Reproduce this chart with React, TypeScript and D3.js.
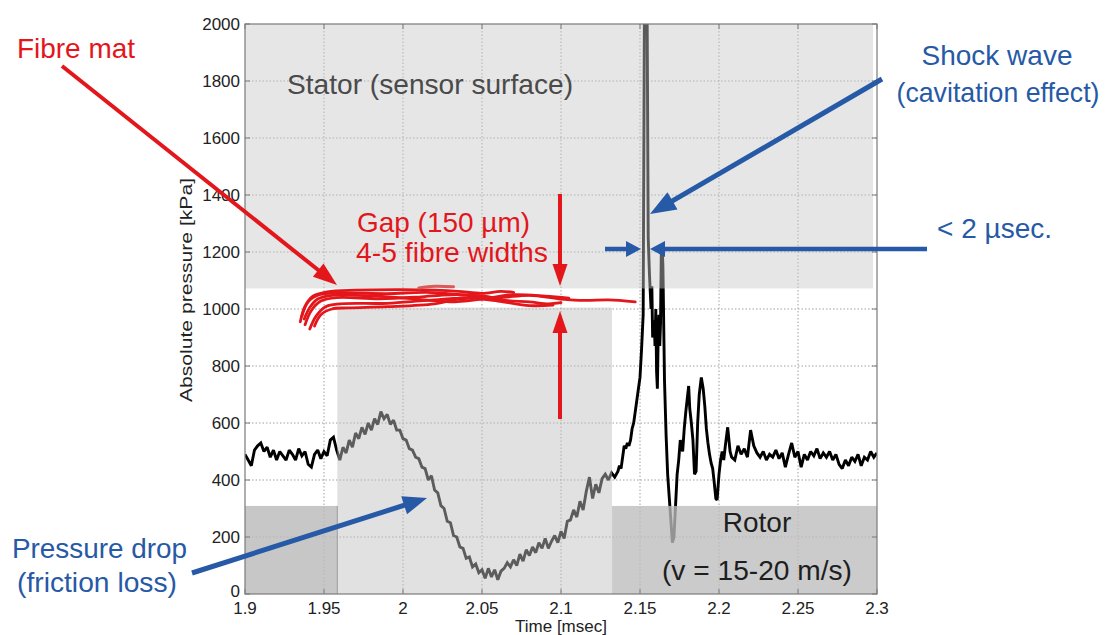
import React from 'react';
import * as d3 from 'd3';

// ---------- axis ticks ----------
const X_TICKS = [1.9, 1.95, 2, 2.05, 2.1, 2.15, 2.2, 2.25, 2.3];
const Y_TICKS = [0, 200, 400, 600, 800, 1000, 1200, 1400, 1600, 1800, 2000];

// ---------- pressure signal [time msec, pressure kPa] ----------
const SIGNAL_BASE_LEFT: [number, number][] = [
  [1.900, 490], [1.902, 470], [1.904, 450], [1.906, 505], [1.908, 520], [1.910, 530],
  [1.912, 500], [1.914, 515], [1.916, 480], [1.918, 505], [1.920, 470], [1.922, 500],
  [1.924, 485], [1.926, 470], [1.928, 505], [1.930, 490], [1.932, 470], [1.934, 510],
  [1.936, 485], [1.938, 500], [1.940, 455], [1.942, 445], [1.944, 490], [1.946, 505],
  [1.948, 475], [1.950, 500], [1.952, 485], [1.954, 540], [1.956, 550], [1.958, 505],
];
const SIGNAL_DROP: [number, number][] = [
  [1.960, 470], [1.962, 515], [1.964, 495], [1.966, 540], [1.968, 515], [1.970, 565],
  [1.972, 545], [1.974, 585], [1.976, 560], [1.978, 600], [1.980, 575], [1.982, 615],
  [1.984, 595], [1.986, 640], [1.988, 615], [1.990, 630], [1.992, 595], [1.994, 610],
  [1.996, 575], [1.998, 575], [2.000, 545], [2.002, 540], [2.004, 510], [2.006, 505],
  [2.008, 480], [2.010, 475], [2.012, 445], [2.014, 440], [2.016, 400], [2.018, 415],
  [2.020, 365], [2.022, 355], [2.024, 310], [2.026, 300], [2.028, 255], [2.030, 250],
  [2.032, 205], [2.034, 200], [2.036, 165], [2.038, 160], [2.040, 125], [2.042, 130],
  [2.044, 95], [2.046, 105], [2.048, 75], [2.050, 85], [2.052, 55], [2.054, 90],
  [2.056, 60], [2.058, 85], [2.060, 50], [2.062, 80], [2.064, 90], [2.066, 110],
  [2.068, 95], [2.070, 120], [2.072, 100], [2.074, 140], [2.076, 115], [2.078, 155],
  [2.080, 135], [2.082, 165], [2.084, 145], [2.086, 180], [2.088, 160], [2.090, 195],
  [2.092, 160], [2.094, 185], [2.096, 205], [2.098, 180], [2.100, 220], [2.102, 195],
  [2.104, 255], [2.106, 260], [2.108, 295], [2.110, 270], [2.112, 325], [2.114, 295],
  [2.116, 360], [2.118, 410], [2.120, 335], [2.122, 385], [2.124, 355], [2.126, 405],
  [2.128, 420], [2.130, 400], [2.132, 425], [2.134, 410],
];
const SIGNAL_SHOCK: [number, number][] = [
  [2.136, 430], [2.137, 450], [2.138, 440], [2.139, 480], [2.140, 520], [2.141, 510],
  [2.142, 530], [2.143, 520], [2.144, 540], [2.145, 580], [2.146, 600], [2.147, 640],
  [2.148, 680], [2.149, 720], [2.150, 760], [2.151, 860], [2.152, 980], [2.1528, 2060],
  [2.1545, 2060], [2.1552, 1250], [2.156, 1120], [2.157, 1000], [2.1575, 1080],
  [2.158, 900], [2.159, 960], [2.1595, 870], [2.160, 1000], [2.1605, 780], [2.161, 720],
  [2.1615, 900], [2.162, 980], [2.1625, 870], [2.163, 950], [2.1635, 1210], [2.164, 1220],
  [2.1645, 1150], [2.1655, 750], [2.1665, 560], [2.1675, 420], [2.1685, 340],
  [2.1695, 260], [2.1705, 180], [2.1715, 200], [2.1725, 310], [2.1735, 420],
  [2.1745, 470], [2.1755, 540], [2.177, 500], [2.178, 580], [2.179, 640], [2.180, 690],
  [2.1808, 730], [2.1815, 650], [2.1825, 600], [2.1835, 540], [2.1845, 420],
  [2.1855, 430], [2.1865, 600], [2.1875, 700], [2.1888, 760], [2.190, 720],
  [2.191, 660], [2.192, 580], [2.193, 530], [2.194, 490], [2.195, 460], [2.196, 440],
  [2.197, 390], [2.198, 335], [2.1988, 330], [2.200, 420], [2.201, 470], [2.202, 500],
  [2.203, 470], [2.204, 520], [2.2055, 585], [2.207, 500],
];
const SIGNAL_TAIL: [number, number][] = [
  [2.208, 480], [2.210, 470], [2.212, 520], [2.214, 490], [2.216, 510], [2.218, 480],
  [2.220, 575], [2.222, 520], [2.224, 495], [2.226, 480], [2.228, 500], [2.230, 470],
  [2.232, 490], [2.234, 480], [2.236, 505], [2.238, 475], [2.240, 495], [2.242, 445],
  [2.244, 490], [2.246, 530], [2.248, 480], [2.250, 500], [2.252, 445], [2.254, 490],
  [2.256, 470], [2.258, 500], [2.260, 485], [2.262, 510], [2.264, 475], [2.266, 495],
  [2.268, 480], [2.270, 500], [2.272, 470], [2.274, 490], [2.276, 455], [2.278, 440],
  [2.280, 470], [2.282, 450], [2.284, 480], [2.286, 465], [2.288, 490], [2.290, 450],
  [2.292, 480], [2.294, 470], [2.296, 500], [2.298, 480], [2.300, 495],
];

// ---------- fibre mat traces ----------
const FIBRE_1: [number, number][] = [[1.935, 955], [1.938, 1010], [1.943, 1045], [1.952, 1060], [1.97, 1066], [2.0, 1068], [2.02, 1066], [2.035, 1062], [2.05, 1055], [2.062, 1062], [2.07, 1058]];
const FIBRE_2: [number, number][] = [[1.936, 975], [1.940, 1025], [1.947, 1050], [1.96, 1056], [1.99, 1054], [2.015, 1058], [2.04, 1048], [2.06, 1040], [2.08, 1048], [2.1, 1035], [2.115, 1030], [2.13, 1032], [2.147, 1025]];
const FIBRE_3: [number, number][] = [[1.938, 945], [1.942, 995], [1.948, 1028], [1.958, 1040], [1.985, 1036], [2.01, 1042], [2.03, 1050], [2.05, 1046], [2.065, 1030], [2.08, 1025], [2.092, 1018], [2.1, 1022]];
const FIBRE_4: [number, number][] = [[1.941, 930], [1.945, 975], [1.951, 1008], [1.96, 1018], [1.99, 1020], [2.015, 1030], [2.04, 1038], [2.06, 1028], [2.08, 1012], [2.095, 1014]];
const FIBRE_5: [number, number][] = [[1.944, 940], [1.948, 980], [1.955, 1000], [1.965, 1004], [1.99, 1008], [2.02, 1018], [2.035, 1035], [2.055, 1042]];
const FIBRE_6: [number, number][] = [[1.9375, 965], [1.941, 1005], [1.946, 1035], [1.955, 1048], [1.98, 1046], [2.01, 1034], [2.03, 1025], [2.05, 1035], [2.07, 1050], [2.09, 1045], [2.105, 1038]];
const FIBRE_HIGHLIGHT: [number, number][] = [[2.01, 1074], [2.02, 1080], [2.032, 1078]];

// ---------- shaded regions (time range, pressure range) ----------
const STATOR_REGION = { t0: 1.9, t1: 2.2975, p0: 1072, p1: 2000 };
const GAP_REGION = { t0: 1.9584, t1: 2.1323, p0: 0, p1: 1005 };
const ROTOR_LEFT = { t0: 1.9, t1: 1.9584, p0: 0, p1: 309 };
const ROTOR_RIGHT = { t0: 2.1323, t1: 2.3, p0: 0, p1: 309 };

const FONT = '"Liberation Sans", Arial, Helvetica, sans-serif';
const RED = '#e3161c';
const BLUE = '#2659a6';

type ArrowProps = { x1: number; y1: number; x2: number; y2: number; color: string; w: number; hl: number; hw: number };
function Arrow({ x1, y1, x2, y2, color, w, hl, hw }: ArrowProps) {
  const dx = x2 - x1, dy = y2 - y1;
  const len = Math.hypot(dx, dy);
  const ux = dx / len, uy = dy / len;
  const bx = x2 - ux * hl, by = y2 - uy * hl;
  const px = -uy, py = ux;
  const pts = [
    [x2, y2],
    [bx + (px * hw) / 2, by + (py * hw) / 2],
    [bx - (px * hw) / 2, by - (py * hw) / 2],
  ].map((p) => p.join(',')).join(' ');
  return (
    <g>
      <line x1={x1} y1={y1} x2={bx + ux * 2} y2={by + uy * 2} stroke={color} strokeWidth={w} />
      <polygon points={pts} fill={color} />
    </g>
  );
}

export default function App() {
  const left = 245, right = 877, top = 24, bottom = 594;
  const x = d3.scaleLinear().domain([1.9, 2.3]).range([left, right]);
  const y = d3.scaleLinear().domain([0, 2000]).range([bottom, top]);

  const signal = [...SIGNAL_BASE_LEFT, ...SIGNAL_DROP, ...SIGNAL_SHOCK, ...SIGNAL_TAIL];
  const line = d3.line<[number, number]>().x((d) => x(d[0])).y((d) => y(d[1]));
  const smooth = d3.line<[number, number]>().x((d) => x(d[0])).y((d) => y(d[1])).curve(d3.curveCatmullRom.alpha(0.5));
  const fibres = [FIBRE_1, FIBRE_2, FIBRE_3, FIBRE_4, FIBRE_5, FIBRE_6];

  const rect = (r: { t0: number; t1: number; p0: number; p1: number }, fill: string, key: string) => (
    <rect key={key} x={x(r.t0)} y={y(r.p1)} width={x(r.t1) - x(r.t0)} height={y(r.p0) - y(r.p1)} fill={fill} />
  );

  return (
    <svg width={1110} height={635} style={{ position: 'absolute', left: 0, top: 0, background: '#fff' }} fontFamily={FONT}>
      <defs>
        <clipPath id="plotclip">
          <rect x={left} y={top} width={right - left} height={bottom - top} />
        </clipPath>
      </defs>

      {/* grid */}
      <g stroke="#a0a0a0" strokeWidth={1} strokeDasharray="1.5,2">
        {X_TICKS.slice(1, -1).map((t) => (
          <line key={'gx' + t} x1={x(t)} x2={x(t)} y1={top} y2={bottom} />
        ))}
        {Y_TICKS.slice(1, -1).map((p) => (
          <line key={'gy' + p} x1={left} x2={right} y1={y(p)} y2={y(p)} />
        ))}
      </g>

      {/* signal */}
      <g clipPath="url(#plotclip)">
        <path d={line(signal) || ''} fill="none" stroke="#000" strokeWidth={2.9} strokeLinejoin="miter" strokeMiterlimit={2} />
      </g>

      {/* translucent regions */}
      {rect(STATOR_REGION, 'rgba(200,200,200,0.45)', 'stator')}
      {rect(GAP_REGION, 'rgba(192,192,192,0.48)', 'gap')}
      {rect(ROTOR_LEFT, 'rgba(185,185,185,0.8)', 'rl')}
      {rect(ROTOR_RIGHT, 'rgba(188,188,188,0.78)', 'rr')}
      <line x1={x(ROTOR_LEFT.t1)} x2={x(ROTOR_LEFT.t1)} y1={y(ROTOR_LEFT.p1)} y2={bottom} stroke="#9a9a9a" strokeWidth={1} />

      {/* axes box */}
      <rect x={left} y={top} width={right - left} height={bottom - top} fill="none" stroke="#7a7a7a" strokeWidth={1.2} />
      <g stroke="#7a7a7a" strokeWidth={1}>
        {X_TICKS.map((t) => (
          <g key={'tx' + t}>
            <line x1={x(t)} x2={x(t)} y1={bottom} y2={bottom - 5} />
            <line x1={x(t)} x2={x(t)} y1={top} y2={top + 5} />
          </g>
        ))}
        {Y_TICKS.map((p) => (
          <g key={'ty' + p}>
            <line x1={left} x2={left + 5} y1={y(p)} y2={y(p)} />
            <line x1={right} x2={right - 5} y1={y(p)} y2={y(p)} />
          </g>
        ))}
      </g>
      <g fontSize={17} fill="#222">
        {X_TICKS.map((t) => (
          <text key={'lx' + t} x={x(t)} y={614} textAnchor="middle">{d3.format('~g')(t)}</text>
        ))}
        {Y_TICKS.map((p) => (
          <text key={'ly' + p} x={240} y={y(p) + 6 - (p === 0 ? 3 : 0)} textAnchor="end">{p}</text>
        ))}
      </g>
      <text x={561} y={632} textAnchor="middle" fontSize={17} fill="#222">Time [msec]</text>
      <text transform={`translate(192,290) rotate(-90)`} textAnchor="middle" fontSize={16} fill="#222" textLength={224} lengthAdjust="spacingAndGlyphs">Absolute pressure [kPa]</text>

      {/* fibre mat */}
      <g fill="none" stroke={RED} strokeWidth={2.8} strokeLinecap="round">
        {fibres.map((f, i) => (
          <path key={'f' + i} d={smooth(f) || ''} />
        ))}
      </g>
      <path d={smooth(FIBRE_HIGHLIGHT) || ''} fill="none" stroke="#d85a5a" strokeWidth={3} strokeLinecap="round" />

      {/* region labels */}
      <text x={287} y={94} fontSize={28} fill="#4a4a4a" textLength={286} lengthAdjust="spacingAndGlyphs">Stator (sensor surface)</text>
      <text x={757} y={532} fontSize={28} fill="#1e1e1e" textAnchor="middle">Rotor</text>
      <text x={757} y={580} fontSize={28} fill="#1e1e1e" textAnchor="middle" textLength={190} lengthAdjust="spacingAndGlyphs">(v = 15-20 m/s)</text>

      {/* red annotations */}
      <text x={17} y={58} fontSize={28} fill={RED} textLength={118} lengthAdjust="spacingAndGlyphs">Fibre mat</text>
      <text x={357} y={232} fontSize={28} fill={RED} textLength={173} lengthAdjust="spacingAndGlyphs">Gap (150 µm)</text>
      <text x={356} y={262} fontSize={28} fill={RED} textLength={192} lengthAdjust="spacingAndGlyphs">4-5 fibre widths</text>
      <Arrow x1={62} y1={66} x2={337} y2={285} color={RED} w={4} hl={24} hw={17} />
      <Arrow x1={560} y1={194} x2={560} y2={286} color={RED} w={4} hl={22} hw={15} />
      <Arrow x1={560} y1={419} x2={560} y2={311} color={RED} w={4} hl={22} hw={15} />

      {/* blue annotations */}
      <text x={997} y={65} fontSize={28} fill={BLUE} textAnchor="middle">Shock wave</text>
      <text x={998} y={102} fontSize={28} fill={BLUE} textAnchor="middle" textLength={203} lengthAdjust="spacingAndGlyphs">(cavitation effect)</text>
      <text x={937} y={238} fontSize={28} fill={BLUE} textLength={115} lengthAdjust="spacingAndGlyphs">&lt; 2 µsec.</text>
      <text x={12} y={558} fontSize={28} fill={BLUE} textLength={175} lengthAdjust="spacingAndGlyphs">Pressure drop</text>
      <text x={17} y={592} fontSize={28} fill={BLUE} textLength={160} lengthAdjust="spacingAndGlyphs">(friction loss)</text>
      <Arrow x1={882} y1={79} x2={650} y2={214} color={BLUE} w={5} hl={26} hw={20} />
      <Arrow x1={605} y1={249} x2={641} y2={249} color={BLUE} w={4.5} hl={15} hw={16} />
      <Arrow x1={927} y1={249} x2={650} y2={249} color={BLUE} w={4.5} hl={15} hw={16} />
      <Arrow x1={192} y1={573} x2={427} y2={498} color={BLUE} w={5} hl={24} hw={19} />
    </svg>
  );
}
